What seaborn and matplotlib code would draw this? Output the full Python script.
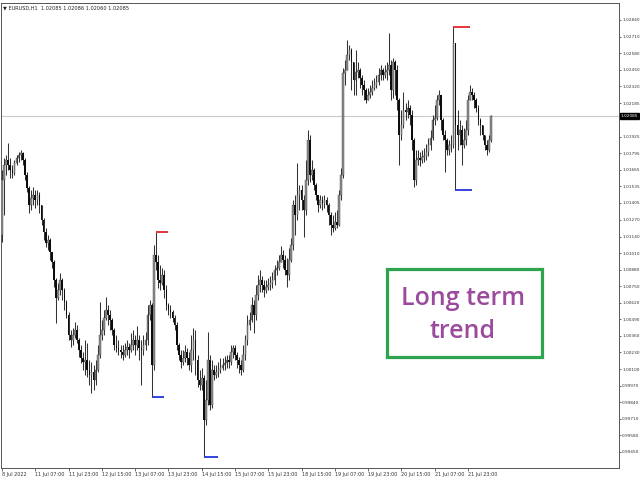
import numpy as np
import pandas as pd
import matplotlib
matplotlib.use("Agg")
import matplotlib.pyplot as plt
from matplotlib.patches import Rectangle
import seaborn as sns

# ---------------- data (EURUSD H1) ----------------
symbol_title = "\u25BC EURUSD,H1  1.02085 1.02086 1.02060 1.02085"
first_open = 1.01152

closes = [
    1.01584, 1.01702, 1.01741, 1.01702, 1.01663, 1.01639, 1.01717, 1.01757, 1.01780, 1.01796,
    1.01741, 1.01623, 1.01521, 1.01388, 1.01443, 1.01466, 1.01427, 1.01466, 1.01388, 1.01270,
    1.01176, 1.01089, 1.01113, 1.01019, 1.00940, 1.00799, 1.00658, 1.00721, 1.00799, 1.00721,
    1.00626, 1.00524, 1.00367, 1.00328, 1.00367, 1.00407, 1.00328, 1.00250, 1.00187, 1.00155,
    1.00171, 1.00093, 1.00053, 1.00077, 1.00014, 1.00093, 1.00210, 1.00367, 1.00407, 1.00501,
    1.00564, 1.00524, 1.00485, 1.00407, 1.00289, 1.00265, 1.00250, 1.00234, 1.00210, 1.00250,
    1.00273, 1.00250, 1.00289, 1.00328, 1.00289, 1.00328, 1.00265, 1.00250, 1.00289, 1.00328,
    1.00524, 1.00603, 1.00132, 1.00995, 1.00940, 1.00799, 1.00775, 1.00838, 1.00721, 1.00603,
    1.00564, 1.00548, 1.00501, 1.00446, 1.00289, 1.00210, 1.00155, 1.00187, 1.00234, 1.00187,
    1.00132, 1.00250, 1.00328, 1.00171, 1.00014, 0.99975, 1.00030, 0.99700, 0.99857, 1.00171,
    0.99818, 1.00093, 1.00053, 1.00077, 1.00093, 1.00108, 1.00132, 1.00147, 1.00171, 1.00155,
    1.00234, 1.00265, 1.00210, 1.00171, 1.00132, 1.00093, 1.00210, 1.00328, 1.00446, 1.00485,
    1.00603, 1.00524, 1.00681, 1.00760, 1.00799, 1.00760, 1.00721, 1.00744, 1.00760, 1.00775,
    1.00799, 1.00878, 1.00893, 1.00940, 1.00995, 1.00956, 1.00878, 1.00838, 1.00956, 1.01074,
    1.01388, 1.01309, 1.01466, 1.01506, 1.01427, 1.01349, 1.01584, 1.01898, 1.01623, 1.01663,
    1.01545, 1.01466, 1.01388, 1.01427, 1.01403, 1.01427, 1.01388, 1.01309, 1.01231, 1.01207,
    1.01254, 1.01231, 1.01466, 1.01623, 1.02424, 1.02447, 1.02565, 1.02604, 1.02510, 1.02369,
    1.02432, 1.02447, 1.02385, 1.02330, 1.02290, 1.02212, 1.02251, 1.02275, 1.02306, 1.02330,
    1.02353, 1.02408, 1.02447, 1.02408, 1.02432, 1.02447, 1.02487, 1.02290, 1.02510, 1.02447,
    1.02212, 1.01937, 1.02016, 1.02134, 1.02118, 1.02149, 1.02094, 1.01898, 1.01584, 1.01741,
    1.01757, 1.01741, 1.01765, 1.01772, 1.01804, 1.01859, 1.01914, 1.02055, 1.02071, 1.02212,
    1.02251, 1.02055, 1.01937, 1.01898, 1.01820, 1.01859, 1.01859, 1.02659, 1.02016, 1.01937,
    1.01976, 1.01859, 1.01898, 1.01976, 1.02212, 1.02275, 1.02251, 1.02212, 1.02149, 1.02055,
    1.02016, 1.01937, 1.01859, 1.01820, 1.01898, 1.02085,
]

highs = [
    1.01663, 1.01757, 1.01780, 1.01874, 1.01757, 1.01702, 1.01741, 1.01780, 1.01804, 1.01820,
    1.01804, 1.01757, 1.01647, 1.01537, 1.01506, 1.01529, 1.01506, 1.01506, 1.01490, 1.01388,
    1.01286, 1.01207, 1.01152, 1.01129, 1.01019, 1.00956, 1.00815, 1.00775, 1.00854, 1.00815,
    1.00736, 1.00642, 1.00548, 1.00407, 1.00422, 1.00469, 1.00446, 1.00344, 1.00289, 1.00234,
    1.00328, 1.00304, 1.00171, 1.00155, 1.00132, 1.00171, 1.00289, 1.00626, 1.00485, 1.00564,
    1.00666, 1.00603, 1.00564, 1.00501, 1.00422, 1.00367, 1.00328, 1.00289, 1.00289, 1.00304,
    1.00328, 1.00304, 1.00383, 1.00407, 1.00367, 1.00438, 1.00367, 1.00328, 1.00367, 1.00391,
    1.00603, 1.00642, 1.00618, 1.01074, 1.01176, 1.00995, 1.00917, 1.00893, 1.00878, 1.00760,
    1.00618, 1.00603, 1.00564, 1.00524, 1.00469, 1.00304, 1.00250, 1.00250, 1.00289, 1.00265,
    1.00234, 1.00367, 1.00422, 1.00407, 1.00210, 1.00093, 1.00108, 1.00053, 1.00014, 1.00391,
    1.00210, 1.00171, 1.00132, 1.00132, 1.00155, 1.00187, 1.00187, 1.00202, 1.00210, 1.00210,
    1.00289, 1.00289, 1.00289, 1.00234, 1.00195, 1.00171, 1.00289, 1.00367, 1.00524, 1.00548,
    1.00666, 1.00642, 1.00760, 1.00838, 1.00878, 1.00830, 1.00799, 1.00799, 1.00815, 1.00830,
    1.00862, 1.00917, 1.00956, 1.00995, 1.01066, 1.01035, 1.00995, 1.00972, 1.01050, 1.01129,
    1.01427, 1.01466, 1.01717, 1.01545, 1.01545, 1.01466, 1.01741, 1.01976, 1.01937, 1.01741,
    1.01678, 1.01560, 1.01466, 1.01466, 1.01458, 1.01466, 1.01451, 1.01403, 1.01333, 1.01309,
    1.01333, 1.01349, 1.01506, 1.01678, 1.02463, 1.02526, 1.02683, 1.02644, 1.02620, 1.02510,
    1.02604, 1.02510, 1.02463, 1.02408, 1.02369, 1.02306, 1.02306, 1.02330, 1.02369, 1.02385,
    1.02408, 1.02463, 1.02487, 1.02463, 1.02487, 1.02510, 1.02738, 1.02526, 1.02542, 1.02526,
    1.02487, 1.02228, 1.02134, 1.02275, 1.02188, 1.02212, 1.02173, 1.02134, 1.01914, 1.01820,
    1.01820, 1.01804, 1.01820, 1.01835, 1.01867, 1.01914, 1.01976, 1.02094, 1.02173, 1.02251,
    1.02290, 1.02251, 1.02071, 1.01976, 1.01914, 1.01898, 1.01937, 1.02785, 1.02526, 1.02134,
    1.02055, 1.02016, 1.01992, 1.02055, 1.02251, 1.02330, 1.02306, 1.02275, 1.02228, 1.02173,
    1.02071, 1.02016, 1.01937, 1.01898, 1.01937, 1.02094,
]

lows = [
    1.01097, 1.01309, 1.01623, 1.01663, 1.01600, 1.01600, 1.01623, 1.01702, 1.01725, 1.01741,
    1.01702, 1.01584, 1.01490, 1.01325, 1.01349, 1.01388, 1.01364, 1.01388, 1.01325, 1.01231,
    1.01113, 1.01058, 1.01035, 1.00956, 1.00893, 1.00744, 1.00461, 1.00642, 1.00681, 1.00642,
    1.00564, 1.00501, 1.00328, 1.00273, 1.00289, 1.00344, 1.00304, 1.00195, 1.00147, 1.00093,
    1.00053, 1.00038, 0.99975, 0.99912, 0.99936, 0.99975, 1.00077, 1.00187, 1.00328, 1.00367,
    1.00485, 1.00446, 1.00407, 1.00367, 1.00250, 1.00234, 1.00210, 1.00187, 1.00171, 1.00195,
    1.00210, 1.00187, 1.00234, 1.00250, 1.00210, 1.00250, 1.00171, 0.99975, 1.00210, 1.00250,
    1.00289, 1.00485, 0.99881, 1.00093, 1.00878, 1.00736, 1.00721, 1.00760, 1.00658, 1.00564,
    1.00524, 1.00501, 1.00469, 1.00407, 1.00250, 1.00171, 1.00108, 1.00132, 1.00155, 1.00132,
    1.00093, 1.00077, 1.00171, 1.00053, 0.99959, 0.99936, 0.99936, 0.99410, 0.99661, 0.99818,
    0.99779, 0.99794, 1.00014, 1.00030, 1.00038, 1.00069, 1.00093, 1.00093, 1.00108, 1.00108,
    1.00132, 1.00187, 1.00171, 1.00108, 1.00069, 1.00053, 1.00077, 1.00171, 1.00289, 1.00407,
    1.00469, 1.00383, 1.00485, 1.00642, 1.00705, 1.00705, 1.00666, 1.00697, 1.00721, 1.00721,
    1.00736, 1.00760, 1.00838, 1.00878, 1.00940, 1.00893, 1.00838, 1.00744, 1.00799, 1.00940,
    1.01035, 1.01152, 1.01270, 1.01349, 1.01349, 1.01137, 1.01309, 1.01545, 1.01568, 1.01584,
    1.01506, 1.01427, 1.01333, 1.01364, 1.01349, 1.01364, 1.01333, 1.01231, 1.01152, 1.01176,
    1.01192, 1.01207, 1.01223, 1.01427, 1.01600, 1.02330, 1.02447, 1.02526, 1.02290, 1.02251,
    1.02251, 1.02385, 1.02306, 1.02251, 1.02212, 1.02188, 1.02212, 1.02228, 1.02251, 1.02290,
    1.02306, 1.02330, 1.02369, 1.02369, 1.02385, 1.02369, 1.02408, 1.02212, 1.02228, 1.02251,
    1.02134, 1.01702, 1.01898, 1.01992, 1.02055, 1.02071, 1.02016, 1.01820, 1.01529, 1.01545,
    1.01702, 1.01694, 1.01717, 1.01725, 1.01741, 1.01772, 1.01820, 1.01898, 1.02016, 1.02055,
    1.02173, 1.01976, 1.01898, 1.01647, 1.01780, 1.01780, 1.01804, 1.01835, 1.01506, 1.01820,
    1.01859, 1.01702, 1.01835, 1.01859, 1.01937, 1.02212, 1.02212, 1.02149, 1.02118, 1.02016,
    1.01937, 1.01898, 1.01820, 1.01780, 1.01804, 1.01882,
]

x_tick_bars = [0, 16, 32, 48, 64, 80, 96, 112, 128, 144, 160, 176, 192, 208, 224]
x_tick_labels = ["8 Jul 2022", "11 Jul 07:00", "11 Jul 23:00", "12 Jul 15:00",
                 "13 Jul 07:00", "13 Jul 23:00", "14 Jul 15:00", "15 Jul 07:00",
                 "15 Jul 23:00", "18 Jul 15:00", "19 Jul 07:00", "19 Jul 23:00",
                 "20 Jul 15:00", "21 Jul 07:00", "21 Jul 23:00"]
y_tick_labels = ["1.02840", "1.02710", "1.02580", "1.02450", "1.02320", "1.02185",
                 "1.01925", "1.01795", "1.01665", "1.01535", "1.01405", "1.01270",
                 "1.01140", "1.01010", "1.00880", "1.00750", "1.00620", "1.00490",
                 "1.00360", "1.00230", "1.00100", "0.99970", "0.99840", "0.99710",
                 "0.99580", "0.99450"]
last_price = 1.02085
last_price_label = "1.02085"
high_marks = [(74, 6), (217, 8)]          # (bar index, length in bars)
low_marks = [(72, 6), (97, 7), (218, 8)]
note_text = "Long term\ntrend"

# ---------------- drawing ----------------
sns.set_theme(style="white")
plt.rcParams['font.family'] = ['DejaVu Sans']

W, H = 640, 480
fig = plt.figure(figsize=(6.4, 4.8), dpi=100)
fig.patch.set_facecolor("white")
ax = fig.add_axes([1 / W, 12 / H, 618 / W, 465 / H])
ax.set_facecolor("white")

n = len(closes)
df = pd.DataFrame({
    "bar": np.arange(n),
    "open": [first_open] + closes[:-1],
    "high": highs,
    "low": lows,
    "close": closes,
})
df["top"] = df[["high", "open", "close"]].max(axis=1)
df["bot"] = df[["low", "open", "close"]].min(axis=1)
df["body"] = df["close"] - df["open"]
up = df["body"] >= 0

ax.axhline(last_price, color="#c9c9c9", lw=0.8, zorder=0)
ax.vlines(df["bar"], df["bot"], df["top"], color="#333333", lw=0.75, zorder=2)
ax.bar(df.loc[up, "bar"], df.loc[up, "body"], bottom=df.loc[up, "open"],
       width=0.8, color="#8c8c8c", edgecolor="#4a4a4a", linewidth=0.3, zorder=3)
ax.bar(df.loc[~up, "bar"], df.loc[~up, "body"], bottom=df.loc[~up, "open"],
       width=0.8, color="#0d0d0d", linewidth=0, zorder=3)

for b, L in high_marks:
    ax.hlines(highs[b], b, b + L, color="#e0262a", lw=1.3, zorder=4)
for b, L in low_marks:
    ax.hlines(lows[b], b, b + L, color="#2436d8", lw=1.3, zorder=4)

ax.set_xlim(-0.48, 296.6)
ax.set_ylim(0.99323, 1.02973)

ax.yaxis.tick_right()
ax.set_yticks([float(v) for v in y_tick_labels])
ax.set_yticklabels(y_tick_labels)
ax.set_xticks(x_tick_bars)
ax.set_xticklabels(x_tick_labels, ha="left")
ax.tick_params(axis="y", which="both", direction="out", length=1.5, width=0.5,
               pad=0.8, labelsize=3.1, colors="#333333", right=True, left=False)
ax.tick_params(axis="x", which="both", direction="out", length=2, width=0.5,
               pad=1.0, labelsize=3.5, colors="#333333", bottom=True)
for lab in ax.get_xticklabels():
    lab.set_horizontalalignment("left")
for sp in ax.spines.values():
    sp.set_color("#555555")
    sp.set_linewidth(0.7)
ax.grid(False)

ax.text(1.003, last_price, last_price_label, transform=ax.get_yaxis_transform(),
        ha="left", va="center", fontsize=3.1, color="white",
        bbox=dict(boxstyle="square,pad=0.2", fc="black", ec="black"))

fig.text(3 / W, 1 - 8 / H, symbol_title, fontsize=3.6, color="#222222",
         ha="left", va="center")

fig.patches.append(Rectangle((387 / W, 1 - 357 / H), 155 / W, 88 / H,
                             transform=fig.transFigure, fill=False,
                             edgecolor="#2ea44f", linewidth=2.3, zorder=5))
fig.text(463 / W, 1 - 315 / H, note_text, fontsize=18, color="#9b4a9e",
         family=["Open Sans", "DejaVu Sans"], fontweight="semibold",
         ha="center", va="center", linespacing=1.45, zorder=6)

fig.savefig("out.png", dpi=100)
